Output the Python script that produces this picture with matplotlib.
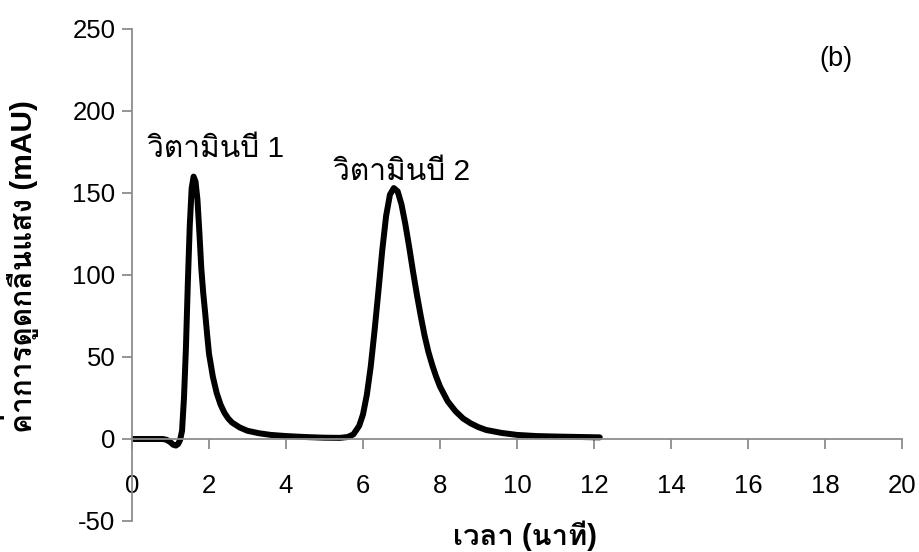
import matplotlib
matplotlib.use("Agg")
import matplotlib.pyplot as plt
import matplotlib.font_manager as fm
from matplotlib.ft2font import FT2Font

# ---- data ----
time_min = [0.0, 0.8, 0.9, 1.0, 1.07, 1.14, 1.2, 1.25, 1.3, 1.35, 1.4, 1.45, 1.5, 1.55, 1.6,
            1.65, 1.7, 1.75, 1.8, 1.85, 1.9, 1.95, 2.0, 2.1, 2.2, 2.3, 2.4, 2.5, 2.6, 2.8,
            3.0, 3.3, 3.6, 4.0, 4.5, 5.0, 5.4, 5.6, 5.75, 5.9, 6.0, 6.1, 6.2, 6.3, 6.4,
            6.5, 6.6, 6.7, 6.8, 6.9, 7.0, 7.1, 7.2, 7.3, 7.4, 7.5, 7.6, 7.7, 7.8, 7.9,
            8.0, 8.2, 8.4, 8.6, 8.8, 9.0, 9.2, 9.6, 10.0, 10.5, 11.0, 12.15]
absorbance = [0.0, 0.0, -0.5, -2.0, -3.5, -4.0, -3.0, -0.5, 5.0, 25.0, 55.0, 95.0, 130.0, 153.0, 160.0,
              157.0, 146.0, 126.0, 104.0, 89.0, 77.0, 64.0, 52.0, 38.0, 28.0, 21.0, 16.0, 12.5, 10.0, 7.0,
              5.0, 3.5, 2.5, 1.8, 1.2, 0.8, 0.7, 1.2, 2.8, 8.0, 15.0, 27.0, 44.0, 66.0, 90.0,
              115.0, 136.0, 149.0, 153.0, 151.0, 143.0, 131.0, 117.0, 102.0, 88.0, 75.0, 63.0, 53.0, 45.0, 38.0,
              32.0, 23.0, 17.0, 12.5, 9.5, 7.2, 5.5, 3.7, 2.5, 1.8, 1.5, 1.0]

x_ticks = [0, 2, 4, 6, 8, 10, 12, 14, 16, 18, 20]
y_ticks = [-50, 0, 50, 100, 150, 200, 250]
x_label = "เวลา (นาที)"
y_label = "ค่าการดูดกลืนแสง (mAU)"
peak_labels = ["วิตามินบี 1", "วิตามินบี 2"]
peak_label_pos = [(2.17, 172), (6.99, 158)]
panel_label = "(b)"

# ---- fonts ----
def find_thai_font():
    for f in fm.fontManager.ttflist:
        try:
            ft = FT2Font(f.fname)
            if 0x0E27 in ft.get_charmap():
                return f.name
        except Exception:
            pass
    return None

thai = find_thai_font()
families = ["Liberation Sans"]
if thai:
    families.append(thai)
families.append("DejaVu Sans")
plt.rcParams["font.family"] = families

grey = "#8c8c8c"

fig = plt.figure(figsize=(9.19, 5.52), dpi=100)
ax = fig.add_axes([132 / 919, 31 / 552, (902 - 132) / 919, (521 - 29) / 552])

ax.plot(time_min, absorbance, color="black", lw=4.3, solid_capstyle="round",
        solid_joinstyle="round")

ax.set_xlim(0, 20)
ax.set_ylim(-50, 250)
ax.set_xticks(x_ticks)
ax.set_yticks(y_ticks)
ax.set_xticklabels([str(v) for v in x_ticks])
ax.set_yticklabels([str(v) for v in y_ticks])

for s in ["top", "right"]:
    ax.spines[s].set_visible(False)
ax.spines["bottom"].set_position(("data", 0))
for s in ["left", "bottom"]:
    ax.spines[s].set_color(grey)
    ax.spines[s].set_linewidth(1.3)

ax.tick_params(axis="x", direction="out", length=7, width=1.3, color=grey,
               labelsize=18.5, pad=18)
ax.tick_params(axis="y", direction="out", length=7, width=1.3, color=grey,
               labelsize=18.5, pad=5)

fig.text(525 / 919, 1 - 536 / 552, x_label, ha="center", va="center",
         fontsize=21, fontweight="bold")
fig.text(20 / 919, 1 - 267 / 552, y_label, ha="center", va="center",
         rotation=90, fontsize=21.5, fontweight="bold")

for lab, (px, py) in zip(peak_labels, peak_label_pos):
    ax.text(px, py, lab, ha="center", va="baseline", fontsize=21.5)

fig.text(836 / 919, 1 - 59 / 552, panel_label, ha="center", va="center", fontsize=19.5)

fig.savefig("out.png", dpi=100)
